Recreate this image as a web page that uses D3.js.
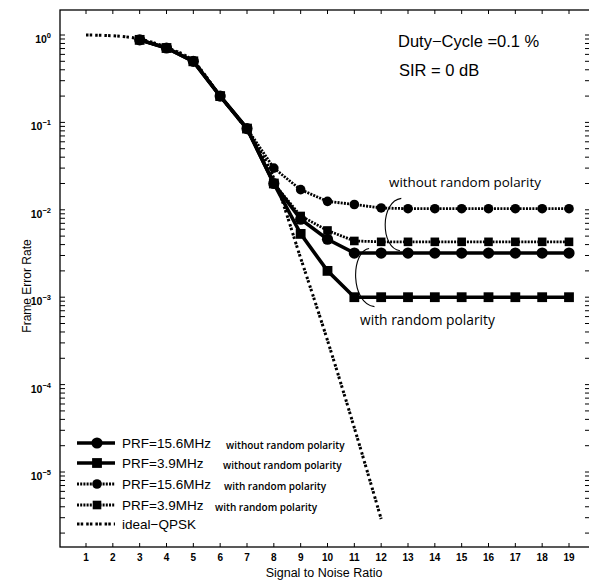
<!DOCTYPE html>
<html>
<head>
<meta charset="utf-8">
<script src="https://cdn.jsdelivr.net/npm/d3@7"></script>
<style>
  body { margin: 0; background: #fff; }
  svg { display: block; }
  text { fill: #000; }
</style>
</head>
<body>
<svg id="chart" width="589" height="586"></svg>
<script>
// values
const snr = [3, 4, 5, 6, 7, 8, 9, 10, 11, 12, 13, 14, 15, 16, 17, 18, 19];
const prf156Without = [0.88, 0.71, 0.5, 0.2, 0.085, 0.02, 0.0078, 0.0046, 0.0032, 0.0032, 0.0032, 0.0032, 0.0032, 0.0032, 0.0032, 0.0032, 0.0032];
const prf39Without = [0.88, 0.71, 0.5, 0.2, 0.085, 0.02, 0.0053, 0.002, 0.001, 0.001, 0.001, 0.001, 0.001, 0.001, 0.001, 0.001, 0.001];
const prf156With = [0.88, 0.71, 0.5, 0.2, 0.085, 0.03, 0.017, 0.0125, 0.0115, 0.0105, 0.0103, 0.0103, 0.0103, 0.0103, 0.0103, 0.0103, 0.0103];
const prf39With = [0.88, 0.71, 0.5, 0.2, 0.085, 0.02, 0.0085, 0.0058, 0.0044, 0.0043, 0.0043, 0.0043, 0.0043, 0.0043, 0.0043, 0.0043, 0.0043];
const qpskSnr = [1, 2, 3, 4, 5, 6, 7, 8, 9, 10, 11, 12];
const qpsk = [1.0, 0.98, 0.9, 0.72, 0.5, 0.2, 0.08, 0.023, 0.0028, 0.00032, 0.000032, 0.0000029];
const xTicks = d3.range(1, 20);
const yMajor = [1, 1e-1, 1e-2, 1e-3, 1e-4, 1e-5];

const series = [
  { name: "PRF=15.6MHz", note: "without random polarity", values: prf156Without, marker: "circle", dash: null, width: 3.6, size: 5.6 },
  { name: "PRF=3.9MHz", note: "without random polarity", values: prf39Without, marker: "square", dash: null, width: 3.6, size: 4.9 },
  { name: "PRF=15.6MHz", note: "with random polarity", values: prf156With, marker: "circle", dash: "2,1.2", width: 2.8, size: 4.8 },
  { name: "PRF=3.9MHz", note: "with random polarity", values: prf39With, marker: "square", dash: "2,1.2", width: 2.8, size: 4.3 },
];

const svg = d3.select("#chart");
const frameL = 60, frameR = 590, frameT = 10, frameB = 547;
const sans = "Liberation Sans, Arial, sans-serif";
const human = "Open Sans, Lato, sans-serif";

const x = d3.scaleLinear().domain([1, 19]).range([86, 569]);
const yBase = d3.scaleLog().domain([1, 1e-5]).range([35, 472]);
const y = yBase.copy().domain([yBase.invert(frameT), yBase.invert(frameB)]).range([frameT, frameB]);

// frame
svg.append("rect").attr("x", frameL).attr("y", frameT).attr("width", frameR - frameL).attr("height", frameB - frameT)
  .attr("fill", "none").attr("stroke", "#000").attr("stroke-width", 1.3);

// ticks
const tickG = svg.append("g").attr("stroke", "#000").attr("stroke-width", 1);
for (const t of xTicks) {
  tickG.append("line").attr("x1", x(t)).attr("x2", x(t)).attr("y1", frameB).attr("y2", frameB - 4);
  tickG.append("line").attr("x1", x(t)).attr("x2", x(t)).attr("y1", frameT).attr("y2", frameT + 4);
}
for (const t of y.ticks()) {
  tickG.append("line").attr("x1", frameL).attr("x2", frameL + 5).attr("y1", y(t)).attr("y2", y(t));
  tickG.append("line").attr("x1", frameR).attr("x2", frameR - 5).attr("y1", y(t)).attr("y2", y(t));
}

// tick labels
svg.append("g").selectAll("text").data(xTicks).join("text")
  .attr("x", (d) => x(d)).attr("y", 561).attr("text-anchor", "middle")
  .attr("font-family", sans).attr("font-size", 10).attr("font-weight", "bold").text((d) => d);

const yl = svg.append("g").selectAll("text").data(yMajor).join("text")
  .attr("x", 51).attr("y", (d) => y(d) + 8).attr("text-anchor", "end")
  .attr("font-family", sans).attr("font-size", 10.5).attr("font-weight", "bold");
yl.append("tspan").text("10");
yl.append("tspan").attr("dy", -5).attr("font-size", 7.5).text((d) => Math.round(Math.log10(d)) === 0 ? "0" : "\u2212" + Math.abs(Math.round(Math.log10(d))));

// axis titles
svg.append("text").attr("x", 324).attr("y", 577).attr("text-anchor", "middle")
  .attr("font-family", sans).attr("font-size", 12.5).text("Signal to Noise Ratio");
svg.append("text").attr("transform", "translate(31,286) rotate(-90)").attr("text-anchor", "middle")
  .attr("font-family", sans).attr("font-size", 12).text("Frame Error Rate");

// ideal QPSK
const qLine = d3.line().x((d, i) => x(qpskSnr[i])).y((d) => y(d)).curve(d3.curveMonotoneX);
svg.append("path").datum(qpsk).attr("d", qLine).attr("fill", "none").attr("stroke", "#000")
  .attr("stroke-width", 3).attr("stroke-dasharray", "2.5,1.2,2.5,3");

// series
const line = d3.line().x((d, i) => x(snr[i])).y((d) => y(d));
function drawMarker(g, kind, cx, cy, s) {
  if (kind === "circle") g.append("circle").attr("cx", cx).attr("cy", cy).attr("r", s).attr("fill", "#000");
  else g.append("rect").attr("x", cx - s).attr("y", cy - s).attr("width", 2 * s).attr("height", 2 * s).attr("fill", "#000");
}
for (const s of [series[2], series[3], series[0], series[1]]) {
  const g = svg.append("g");
  g.append("path").datum(s.values).attr("d", line).attr("fill", "none").attr("stroke", "#000")
    .attr("stroke-width", s.width).attr("stroke-dasharray", s.dash);
  s.values.forEach((v, i) => drawMarker(g, s.marker, x(snr[i]), y(v), s.size));
}

// annotations
svg.append("text").attr("x", 398).attr("y", 47).attr("font-family", sans).attr("font-size", 16.5).text("Duty\u2212Cycle =0.1 %");
svg.append("text").attr("x", 399).attr("y", 76).attr("font-family", sans).attr("font-size", 16.5).text("SIR = 0 dB");
svg.append("text").attr("x", 389).attr("y", 187).attr("font-family", human).attr("font-size", 13.4).text("without random polarity");
svg.append("text").attr("x", 360).attr("y", 325).attr("font-family", human).attr("font-size", 13.8).text("with random polarity");

function brace(xTop, yTop, xLeft, yBottom, xBottom) {
  const x0 = x(xTop), y0 = y(yTop), x1 = x(xBottom), y1 = y(yBottom);
  const c = (8 * x(xLeft) - x0 - x1) / 6;
  const p = d3.path();
  p.moveTo(x0, y0);
  p.bezierCurveTo(c, y0 + (y1 - y0) * 0.05, c, y1 - (y1 - y0) * 0.05, x1, y1);
  svg.append("path").attr("d", p.toString()).attr("fill", "none").attr("stroke", "#000").attr("stroke-width", 1.1);
}
brace(12.75, 0.0135, 12.15, 0.0034, 12.7);
brace(11.55, 0.0036, 11.05, 0.00078, 11.75);

// legend
const rows = [443, 463, 484, 505, 524];
const legend = svg.append("g");
series.forEach((s, i) => {
  const ry = rows[i];
  legend.append("line").attr("x1", 77).attr("x2", 115).attr("y1", ry).attr("y2", ry)
    .attr("stroke", "#000").attr("stroke-width", s.width).attr("stroke-dasharray", s.dash);
  drawMarker(legend, s.marker, 97, ry, s.size);
  legend.append("text").attr("x", 122).attr("y", ry + 5).attr("font-family", sans).attr("font-size", 13.5).text(s.name);
  legend.append("text").attr("x", [226, 223, 224, 215][i]).attr("y", ry + 6).attr("font-family", human)
    .attr("font-size", 10).attr("font-weight", 600).text(s.note);
});
legend.append("line").attr("x1", 77).attr("x2", 115).attr("y1", rows[4]).attr("y2", rows[4])
  .attr("stroke", "#000").attr("stroke-width", 3).attr("stroke-dasharray", "2.5,1.2,2.5,3");
legend.append("text").attr("x", 122).attr("y", rows[4] + 5).attr("font-family", sans).attr("font-size", 13.5).text("ideal\u2212QPSK");
</script>
</body>
</html>
